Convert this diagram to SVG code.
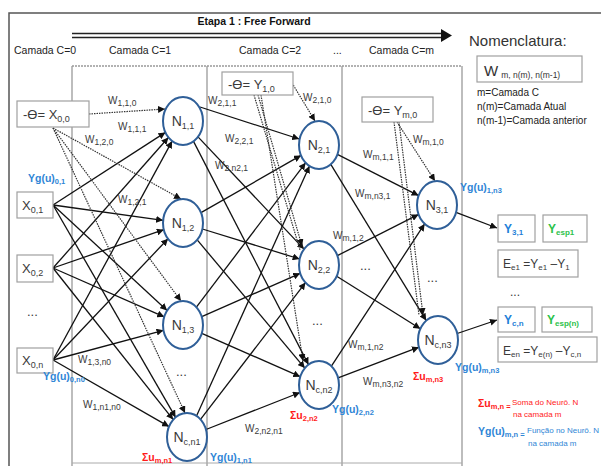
<svg xmlns="http://www.w3.org/2000/svg" width="601" height="466" viewBox="0 0 601 466">
<defs>
<marker id="ah" viewBox="0 0 10 10" refX="10" refY="5" markerWidth="7" markerHeight="7" markerUnits="userSpaceOnUse" orient="auto"><path d="M0,0 L10,5 L0,10 z" fill="#111"/></marker>
</defs>
<style>
text{font-family:"Liberation Sans",Arial,sans-serif;fill:#3a3a3a}
.title{font-size:10.5px;font-weight:bold;fill:#111}
.lay{font-size:10.5px;fill:#222}
.nl{font-size:14px;text-anchor:middle}
.bx{font-size:13px}
.w{font-size:10px}
.bl{fill:#2f86d6;font-weight:bold;font-size:10.5px}
.rd{fill:#ff1a1a;font-weight:bold;font-size:10.5px}
.gr{fill:#2cc24a;font-weight:bold;font-size:12px}
.b{fill:#1f7fd8;font-weight:bold;font-size:12px}
.neu{fill:#fff;stroke:#2f5f98;stroke-width:2}
.box{fill:#fff;stroke:#a0a0a0;stroke-width:1.2}
.lyr{stroke:#a8a8a8;stroke-width:1.5;fill:none}
.s{stroke:#111;stroke-width:1.3;fill:none;marker-end:url(#ah)}
.d{stroke:#333;stroke-width:1.2;stroke-dasharray:1.5 1;fill:none;marker-end:url(#ah)}
.d2{stroke:#333;stroke-width:1.2;stroke-dasharray:1.5 1;fill:none}
.sm{font-size:8.5px}
</style>
<rect width="601" height="466" fill="#fff"/>
<!-- frame -->
<path d="M9,470 V13 H605" fill="none" stroke="#555" stroke-width="1.5"/>
<!-- layer boxes -->
<path class="lyr" d="M72,466 V66 M207,466 V66 M342,466 V66 M462,466 V66"/>
<path d="M72,66 H462" stroke="#999" stroke-width="1.5" stroke-dasharray="2 1" fill="none"/>
<path d="M72,463 H462" stroke="#aaa" stroke-width="1" fill="none"/>
<!-- title & double arrow -->
<text class="title" x="254" y="25" text-anchor="middle">Etapa 1 : Free Forward</text>
<path d="M72,33.5 H442 M72,37.5 H442" stroke="#222" stroke-width="1.6" fill="none"/>
<path d="M441,29 L452,35.5 L441,42 z" fill="#111"/>
<text class="lay" x="14" y="54">Camada C=0</text>
<text class="lay" x="109" y="54">Camada C=1</text>
<text class="lay" x="239" y="54">Camada C=2</text>
<text class="lay" x="333" y="54">...</text>
<text class="lay" x="369" y="54">Camada C=m</text>
<!-- nomenclature -->
<g id="nomenclatura">
<text x="469" y="46" style="font-size:15px;fill:#333">Nomenclatura:</text>
<rect class="box" x="477" y="56" width="105" height="26"/>
<text x="484" y="76" style="font-size:15px;fill:#333">W<tspan dx="3" dy="2" style="font-size:8.5px">m, n(m), n(m-1)</tspan></text>
<text x="477" y="96" style="font-size:10px;fill:#222">m=Camada C</text>
<text x="477" y="110" style="font-size:10px;fill:#222">n(m)=Camada Atual</text>
<text x="477" y="124" style="font-size:10px;fill:#222">n(m-1)=Camada anterior</text>
</g>
<!-- connectors -->
<g id="connectors">
<path class="s" d="M53,205 L165.4,132.4"/>
<path class="s" d="M53,205 L163.1,220.3"/>
<path class="s" d="M53,205 L167.1,310.4"/>
<path class="s" d="M53,205 L175.6,417.3"/>
<path class="s" d="M53,268 L168.4,137.5"/>
<path class="s" d="M53,268 L163.8,229.7"/>
<path class="s" d="M53,268 L164.2,316.8"/>
<path class="s" d="M53,268 L173.2,419.6"/>
<path class="s" d="M53,360 L172.1,141.1"/>
<path class="s" d="M53,360 L168,238.8"/>
<path class="s" d="M53,360 L163.5,330.3"/>
<path class="s" d="M53,360 L169,426.6"/>
<path class="d" d="M89,114 L165,109"/>
<path class="d" d="M53,128 L181,199"/>
<path class="d" d="M53,128 L181,301"/>
<path class="d" d="M53,128 L185,413"/>
<path class="s" d="M200,107 L299.2,139"/>
<path class="s" d="M198,136.9 L304,249.1"/>
<path class="s" d="M193.5,141.4 L308.5,364.6"/>
<path class="s" d="M201,212.6 L301,155.4"/>
<path class="s" d="M202.4,229 L299.6,259"/>
<path class="s" d="M197.2,239.9 L304.8,368.1"/>
<path class="s" d="M196.4,307.2 L305.6,162.8"/>
<path class="s" d="M201.8,316.7 L300.2,273.3"/>
<path class="s" d="M201.8,333.3 L300.2,376.7"/>
<path class="s" d="M196.5,415.9 L309.5,166.1"/>
<path class="s" d="M200.5,419.4 L305.5,282.6"/>
<path class="s" d="M206,429.5 L300,392.5"/>
<path class="d" d="M292,83 L315,121"/>
<path class="d" d="M258,95 L302,246"/>
<path class="d2" d="M254,95 L300,250"/>
<path class="d" d="M261,95 L303,361"/>
<path class="s" d="M337.4,154.4 L418.6,195.6"/>
<path class="s" d="M330.8,164.4 L426.2,320.6"/>
<path class="s" d="M337.4,255.6 L418.6,214.4"/>
<path class="s" d="M336.7,276.2 L420.3,328.8"/>
<path class="s" d="M331.4,366.1 L424.6,223.9"/>
<path class="s" d="M338.1,377.8 L418.9,347.2"/>
<path class="d" d="M397,122 L435,181"/>
<path class="d2" d="M394,122 L419,315"/>
<path class="d" d="M399,122 L423,315"/>
<path class="s" d="M456,212.3 L497,228"/>
<path class="s" d="M457.2,333.5 L497,320"/>
</g>
<!-- input nodes -->
<g id="x00"><rect class="box" x="17" y="101" width="72" height="26"/><text class="bx" x="23" y="119">-ϴ= X<tspan dy="3" style="font-size:9px">0,0</tspan></text></g>
<g id="x01"><rect class="box" x="17" y="192" width="36" height="26"/><text class="bx" x="22" y="210">X<tspan dy="3" style="font-size:9px">0,1</tspan></text></g>
<g id="x02"><rect class="box" x="17" y="255" width="36" height="27"/><text class="bx" x="22" y="273">X<tspan dy="3" style="font-size:9px">0,2</tspan></text></g>
<text class="bx" x="27" y="316">...</text>
<g id="x0n"><rect class="box" x="17" y="348" width="36" height="25"/><text class="bx" x="22" y="365">X<tspan dy="3" style="font-size:9px">0,n</tspan></text></g>
<g id="y10"><rect class="box" x="222" y="72" width="71" height="23"/><text class="bx" x="228" y="89">-ϴ= Y<tspan dy="3" style="font-size:9px">1,0</tspan></text></g>
<g id="ym0"><rect class="box" x="362" y="97" width="71" height="25"/><text class="bx" x="368" y="115">-ϴ= Y<tspan dy="3" style="font-size:9px">m,0</tspan></text></g>
<!-- neurons -->
<g id="n11"><ellipse class="neu" cx="183" cy="121" rx="20" ry="24"/><text class="nl" x="183" y="126">N<tspan dy="3" style="font-size:9px">1,1</tspan></text></g>
<g id="n12"><ellipse class="neu" cx="183" cy="223" rx="20" ry="24"/><text class="nl" x="183" y="228">N<tspan dy="3" style="font-size:9px">1,2</tspan></text></g>
<g id="n13"><ellipse class="neu" cx="183" cy="325" rx="20" ry="24"/><text class="nl" x="183" y="330">N<tspan dy="3" style="font-size:9px">1,3</tspan></text></g>
<text class="bx" x="176" y="376">...</text>
<g id="ncn1"><ellipse class="neu" cx="187" cy="437" rx="20" ry="24"/><text class="nl" x="187" y="442">N<tspan dy="3" style="font-size:9px">c,n1</tspan></text></g>
<g id="n21"><ellipse class="neu" cx="319" cy="145" rx="20" ry="24"/><text class="nl" x="319" y="150">N<tspan dy="3" style="font-size:9px">2,1</tspan></text></g>
<g id="n22"><ellipse class="neu" cx="319" cy="265" rx="20" ry="24"/><text class="nl" x="319" y="270">N<tspan dy="3" style="font-size:9px">2,2</tspan></text></g>
<text class="bx" x="312" y="325">...</text>
<g id="ncn2"><ellipse class="neu" cx="319" cy="385" rx="20" ry="24"/><text class="nl" x="319" y="390">N<tspan dy="3" style="font-size:9px">c,n2</tspan></text></g>
<text class="bx" x="360" y="270">...</text>
<text class="bx" x="427" y="282">...</text>
<g id="n31"><ellipse class="neu" cx="437" cy="205" rx="20" ry="24"/><text class="nl" x="437" y="210">N<tspan dy="3" style="font-size:9px">3,1</tspan></text></g>
<g id="ncn3"><ellipse class="neu" cx="438" cy="340" rx="20" ry="24"/><text class="nl" x="438" y="345">N<tspan dy="3" style="font-size:9px">c,n3</tspan></text></g>
<!-- weight labels -->
<g id="weights">
<text class="w" x="108" y="104">W<tspan dy="2" class="sm">1,1,0</tspan></text>
<text class="w" x="118" y="130">W<tspan dy="2" class="sm">1,1,1</tspan></text>
<text class="w" x="85" y="143">W<tspan dy="2" class="sm">1,2,0</tspan></text>
<text class="w" x="118" y="203">W<tspan dy="2" class="sm">1,2,1</tspan></text>
<text class="w" x="78" y="363">W<tspan dy="2" class="sm">1,3,n0</tspan></text>
<text class="w" x="83" y="408">W<tspan dy="2" class="sm">1,n1,n0</tspan></text>
<text class="w" x="208" y="104">W<tspan dy="2" class="sm">2,1,1</tspan></text>
<text class="w" x="225" y="142">W<tspan dy="2" class="sm">2,2,1</tspan></text>
<text class="w" x="215" y="169">W<tspan dy="2" class="sm">2,n2,1</tspan></text>
<text class="w" x="245" y="432">W<tspan dy="2" class="sm">2,n2,n1</tspan></text>
<text class="w" x="303" y="101">W<tspan dy="2" class="sm">2,1,0</tspan></text>
<text class="w" x="363" y="158">W<tspan dy="2" class="sm">m,1,1</tspan></text>
<text class="w" x="355" y="197">W<tspan dy="2" class="sm">m,n3,1</tspan></text>
<text class="w" x="413" y="143">W<tspan dy="2" class="sm">m,1,0</tspan></text>
<text class="w" x="333" y="239">W<tspan dy="2" class="sm">m,1,2</tspan></text>
<text class="w" x="348" y="348">W<tspan dy="2" class="sm">m,1,n2</tspan></text>
<text class="w" x="363" y="385">W<tspan dy="2" class="sm">m,n3,n2</tspan></text>
</g>
<!-- activation labels -->
<g id="labels">
<text class="bl" x="28" y="182">Yg(u)<tspan dy="2" style="font-size:7.5px">0,1</tspan></text>
<text class="bl" x="43" y="380">Yg(u)<tspan dy="2" style="font-size:7.5px">0,n0</tspan></text>
<text class="rd" x="142" y="461">Σu<tspan dy="2" style="font-size:7.5px">m,n1</tspan></text>
<text class="bl" x="210" y="461">Yg(u)<tspan dy="2" style="font-size:7.5px">1,n1</tspan></text>
<text class="rd" x="290" y="419">Σu<tspan dy="2" style="font-size:7.5px">2,n2</tspan></text>
<text class="bl" x="332" y="413">Yg(u)<tspan dy="2" style="font-size:7.5px">2,n2</tspan></text>
<text class="rd" x="413" y="380">Σu<tspan dy="2" style="font-size:7.5px">m,n3</tspan></text>
<text class="bl" x="455" y="371">Yg(u)<tspan dy="2" style="font-size:7.5px">m,n3</tspan></text>
<text class="bl" x="460" y="191">Yg(u)<tspan dy="2" style="font-size:7.5px">1,n3</tspan></text>
</g>
<!-- outputs -->
<g id="y31"><rect class="box" x="498" y="215" width="37" height="27"/><text class="b" x="504" y="233">Y<tspan dy="2" style="font-size:8px">3,1</tspan></text></g>
<g id="yesp1"><rect class="box" x="543" y="215" width="44" height="27"/><text class="gr" x="548" y="233">Y<tspan dy="2" style="font-size:8px">esp1</tspan></text></g>
<g id="ee1"><rect class="box" x="498" y="250" width="80" height="27"/><text x="503" y="268" style="font-size:12px">E<tspan dy="2" style="font-size:8px">e1</tspan><tspan dy="-2"> =Y</tspan><tspan dy="2" style="font-size:8px">e1</tspan><tspan dy="-2"> –Y</tspan><tspan dy="2" style="font-size:8px">1</tspan></text></g>
<text x="510" y="296" style="font-size:12px">...</text>
<g id="ycn"><rect class="box" x="498" y="307" width="37" height="25"/><text class="b" x="504" y="324">Y<tspan dy="2" style="font-size:8px">c,n</tspan></text></g>
<g id="yespn"><rect class="box" x="542" y="307" width="50" height="25"/><text class="gr" x="547" y="324">Y<tspan dy="2" style="font-size:8px">esp(n)</tspan></text></g>
<g id="een"><rect class="box" x="498" y="337" width="99" height="25"/><text x="503" y="355" style="font-size:12px">E<tspan dy="2" style="font-size:8px">en</tspan><tspan dy="-2"> =Y</tspan><tspan dy="2" style="font-size:8px">e(n)</tspan><tspan dy="-2"> –Y</tspan><tspan dy="2" style="font-size:8px">c,n</tspan></text></g>
<!-- legend -->
<g id="legend">
<text class="rd" x="478" y="407">Σu<tspan dy="2" style="font-size:7.5px">m,n =</tspan></text>
<text x="512" y="405" style="font-size:8px;fill:#ff1a1a">Soma do Neurô. N</text>
<text x="513" y="417" style="font-size:8px;fill:#ff1a1a">na camada m</text>
<text class="bl" x="478" y="435">Yg(u)<tspan dy="2" style="font-size:7.5px">m,n =</tspan></text>
<text x="527" y="433" style="font-size:8px;fill:#2f86d6">Função no Neurô. N</text>
<text x="528" y="446" style="font-size:8px;fill:#2f86d6">na camada m</text>
</g>
</svg>
